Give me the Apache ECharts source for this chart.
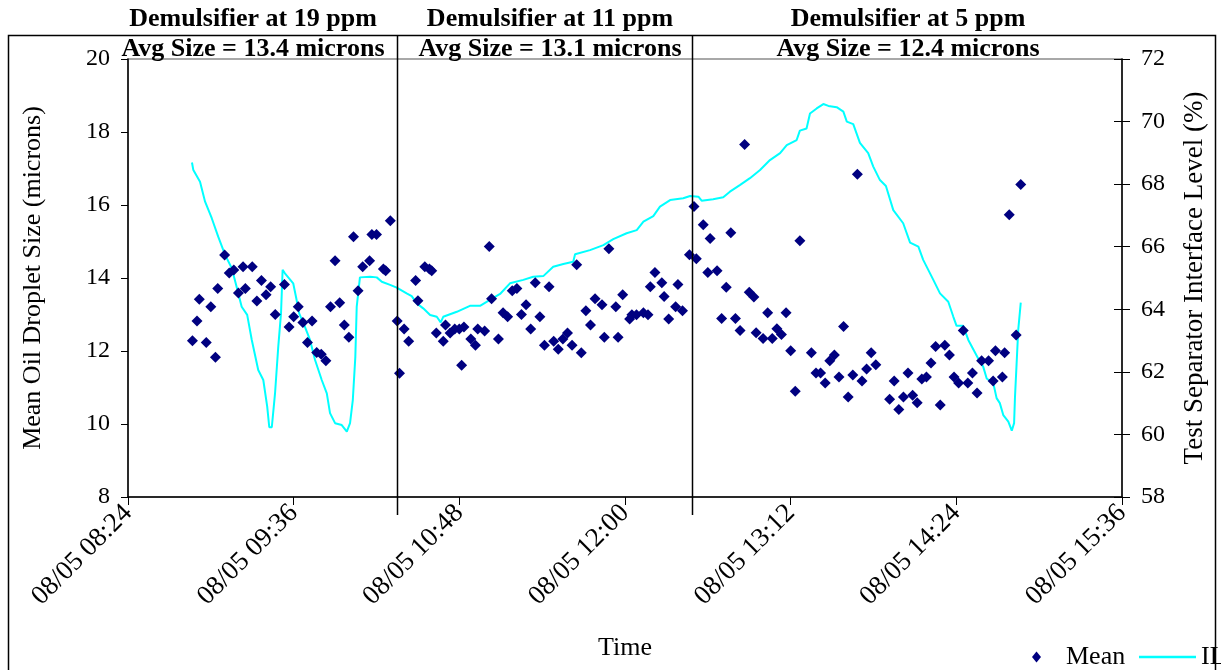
<!DOCTYPE html>
<html><head><meta charset="utf-8">
<script src="https://cdn.jsdelivr.net/npm/echarts@6/dist/echarts.min.js"></script>
<style>html,body{margin:0;padding:0;background:#fff}#c{width:1221px;height:670px}</style>
</head><body><div id="c"></div>
<script>
// ---- data ----
const datePrefix = '08/05';
const xAxisStart = '08:24';
const xAxisEnd = '15:36';
const xTickStepMin = 72;

const sectionTitles = ['Demulsifier at 19 ppm', 'Demulsifier at 11 ppm', 'Demulsifier at 5 ppm'];
const sectionAvg = ['Avg Size = 13.4 microns', 'Avg Size = 13.1 microns', 'Avg Size = 12.4 microns'];
const sectionBreaks = ['10:21', '12:29'];

const meanTimes = ['08:52','08:54','08:55','08:58','09:00','09:02','09:03','09:06','09:08','09:10',
'09:12','09:14','09:15','09:18','09:20','09:22','09:24','09:26','09:28','09:32',
'09:34','09:36','09:38','09:40','09:42','09:44','09:46','09:48','09:50','09:52',
'09:54','09:56','09:58','10:00','10:02','10:04','10:06','10:09','10:10','10:12',
'10:15','10:16','10:18','10:21','10:22','10:24','10:26','10:29','10:30','10:33',
'10:35','10:36','10:38','10:41','10:42','10:44','10:46','10:48','10:49','10:50',
'10:53','10:55','10:56','10:59','11:01','11:02','11:05','11:07','11:09','11:11',
'11:13','11:15','11:17','11:19','11:21','11:23','11:25','11:27','11:29','11:31',
'11:33','11:35','11:37','11:39','11:41','11:43','11:45','11:47','11:50','11:51',
'11:53','11:56','11:57','11:59','12:02','12:03','12:05','12:08','12:10','12:11',
'12:13','12:16','12:17','12:19','12:22','12:23','12:25','12:28','12:30','12:31',
'12:34','12:36','12:37','12:40','12:42','12:44','12:46','12:48','12:50','12:52',
'12:54','12:56','12:57','13:00','13:02','13:04','13:06','13:08','13:10','13:12',
'13:14','13:16','13:21','13:23','13:25','13:27','13:29','13:31','13:33','13:35',
'13:37','13:39','13:41','13:43','13:45','13:47','13:49','13:55','13:57','13:59',
'14:01','14:03','14:05','14:07','14:09','14:11','14:13','14:15','14:17','14:19',
'14:21','14:23','14:25','14:27','14:29','14:31','14:33','14:35','14:38','14:40',
'14:41','14:44','14:45','14:47','14:50','14:52'];
const meanValues = [12.28,12.82,13.42,12.23,13.21,11.83,13.71,14.63,14.14,14.22,
13.59,14.31,13.71,14.31,13.37,13.93,13.54,13.76,13.00,13.82,
12.66,12.94,13.21,12.78,12.23,12.82,11.96,11.91,11.73,13.21,
14.47,13.32,12.71,12.38,15.13,13.65,14.31,14.47,15.19,15.19,
14.25,14.20,15.57,12.82,11.39,12.60,12.27,13.93,13.38,14.31,
14.25,14.20,12.49,12.27,12.71,12.49,12.60,12.60,11.61,12.66,
12.33,12.16,12.60,12.55,14.86,13.43,12.33,13.05,12.94,13.65,
13.71,13.00,13.27,12.60,13.87,12.94,12.16,13.76,12.27,12.05,
12.33,12.49,12.16,14.36,11.95,13.10,12.71,13.43,13.27,12.38,
14.80,13.21,12.38,13.54,12.88,12.99,12.99,13.05,12.99,13.76,
14.15,13.87,13.49,12.88,13.21,13.82,13.10,14.64,15.96,14.53,
15.46,14.15,15.08,14.20,12.89,13.75,15.24,12.89,12.56,17.66,
13.61,13.48,12.50,12.34,13.05,12.34,12.61,12.45,13.05,12.01,
10.90,15.02,11.95,11.40,11.40,11.12,11.73,11.89,11.29,12.67,
10.74,11.34,16.84,11.18,11.51,11.95,11.62,10.68,11.18,10.40,
10.74,11.40,10.79,10.58,11.23,11.29,11.67,12.12,10.52,12.16,
11.89,11.29,11.12,12.56,11.12,11.40,10.85,11.73,11.73,11.18,
12.01,11.29,11.95,15.73,12.44,16.56];

const ilTimes = ['08:51:48','08:52:24','08:55:18','08:57:30','09:00:24','09:03:12','09:06:12','09:09:06','09:11:12','09:13:24',
'09:15:48','09:17:48','09:20:36','09:22:48','09:24:30','09:25:24','09:26:30','09:27:54','09:29:18','09:30:30',
'09:31:12','09:32:12','09:35:48','09:37:00','09:38:24','09:40:54','09:43:06','09:45:18','09:48:12','09:50:24',
'09:51:48','09:54:00','09:56:54','09:59:06','10:00:30','10:01:42','10:02:48','10:03:24','10:04:48','10:09:12',
'10:12:06','10:14:18','10:17:54','10:20:48','10:25:06','10:27:18','10:29:30','10:32:18','10:35:18','10:38:12',
'10:39:54','10:41:00','10:46:54','10:52:36','10:57:00','11:01:18','11:05:42','11:10:00','11:15:48','11:20:06',
'11:24:30','11:28:48','11:33:12','11:37:30','11:38:18','11:44:48','11:50:36','11:54:54','12:00:42','12:05:06',
'12:08:00','12:12:18','12:15:12','12:19:36','12:25:18','12:28:18','12:31:54','12:33:18','12:38:18','12:42:42',
'12:45:36','12:49:54','12:54:18','12:58:42','13:03:00','13:07:24','13:10:18','13:14:36','13:16:00','13:18:54',
'13:20:24','13:23:18','13:26:12','13:28:24','13:32:00','13:34:54','13:36:24','13:39:12','13:42:06','13:45:42',
'13:47:54','13:50:48','13:53:24','13:56:36','14:00:54','14:03:54','14:07:30','14:09:36','14:14:00','14:16:54',
'14:20:30','14:22:42','14:24:06','14:27:00','14:29:12','14:33:30','14:35:42','14:37:12','14:40:06','14:41:30',
'14:42:54','14:44:24','14:46:36','14:48:06','14:49:06','14:49:30','14:50:12','14:50:54','14:52:00'];
const ilValues = [68.69,68.45,68.08,67.44,66.91,66.32,65.74,65.31,64.72,64.08,
63.82,63.02,62.06,61.74,60.89,60.23,60.23,61.31,62.80,63.87,
65.26,65.15,64.83,64.40,63.87,63.44,63.02,62.38,61.74,61.31,
60.68,60.36,60.30,60.09,60.36,61.10,62.48,64.08,65.02,65.04,
65.02,64.88,64.78,64.69,64.51,64.42,64.19,64.03,63.82,63.76,
63.58,63.76,63.92,64.11,64.11,64.30,64.49,64.83,64.94,65.04,
65.06,65.36,65.45,65.52,65.76,65.89,66.05,66.24,66.43,66.53,
66.80,66.98,67.28,67.49,67.55,67.62,67.60,67.47,67.52,67.58,
67.76,67.97,68.19,68.45,68.77,68.99,69.25,69.41,69.71,69.78,
70.26,70.42,70.56,70.50,70.46,70.32,70.00,69.92,69.32,68.99,
68.56,68.13,67.94,67.17,66.75,66.13,66.00,65.58,64.94,64.51,
64.24,63.76,63.47,63.47,63.02,62.43,62.16,61.79,61.63,61.16,
61.00,60.62,60.41,60.12,60.36,61.21,62.27,63.34,64.21];

// ---- helpers ----
function toMin(s){ const p = s.split(':').map(Number); return p[0]*60 + p[1] + (p[2]||0)/60; }
function fmt(m){ const h = Math.floor(m/60), mm = Math.round(m - h*60);
  return datePrefix + ' ' + String(h).padStart(2,'0') + ':' + String(mm).padStart(2,'0'); }

const FONT = '"Liberation Serif", "Times New Roman", serif';
const chart = echarts.init(document.getElementById('c'), null, {renderer:'canvas'});

const titleX = [253, 550, 908];
const graphics = [
  {type:'rect', id:'frame', silent:true, z:0, shape:{x:8.5, y:35.5, width:1207, height:700},
   style:{fill:'none', stroke:'#000', lineWidth:1.5}}
];
sectionTitles.forEach((t,i)=>{
  graphics.push({type:'text', id:'t'+i, z:100, style:{text:t, x:titleX[i], y:19, textAlign:'center', textVerticalAlign:'middle', align:'center', verticalAlign:'middle', font:'bold 26px ' + FONT, fill:'#000'}});
  graphics.push({type:'text', id:'a'+i, z:100, style:{text:sectionAvg[i], x:titleX[i], y:49, textAlign:'center', textVerticalAlign:'middle', align:'center', verticalAlign:'middle', font:'bold 26px ' + FONT, fill:'#000'}});
});

const nameText = {color:'#000', fontFamily:FONT, fontSize:26};
const tickText = {color:'#000', fontFamily:FONT, fontSize:24};

chart.setOption({
  animation:false,
  textStyle:{fontFamily:FONT},
  grid:{left:128, right:99, top:59, bottom:173, show:true, borderColor:'#8c8c8c', borderWidth:1.5},
  xAxis:{type:'value', min:toMin(xAxisStart), max:toMin(xAxisEnd), interval:xTickStepMin,
    axisLine:{lineStyle:{color:'#000', width:1.5}},
    axisTick:{length:8, lineStyle:{color:'#000', width:1}},
    axisLabel:{rotate:45, formatter:fmt, margin:12, color:'#000', fontFamily:FONT, fontSize:27},
    splitLine:{show:false},
    name:'Time', nameLocation:'middle', nameGap:138, nameTextStyle:nameText},
  yAxis:[
    {type:'value', min:8, max:20, interval:2, position:'left',
     axisLine:{show:true, lineStyle:{color:'#000', width:1.5}},
     axisTick:{show:true, length:7, lineStyle:{color:'#000'}},
     axisLabel:Object.assign({margin:18}, tickText),
     splitLine:{show:false},
     name:'Mean Oil Droplet Size (microns)', nameLocation:'middle', nameGap:82, nameRotate:90, nameTextStyle:nameText},
    {type:'value', min:58, max:72, interval:2, position:'right',
     axisLine:{show:true, lineStyle:{color:'#000', width:1.5}},
     axisTick:{show:true, length:8, lineStyle:{color:'#000'}},
     axisLabel:Object.assign({margin:19}, tickText),
     splitLine:{show:false},
     name:'Test Separator Interface Level (%)', nameLocation:'middle', nameGap:59, nameRotate:90,
     nameTextStyle:Object.assign({}, nameText, {fontSize:27})},
    {type:'value', min:58, max:72, interval:2, position:'right', offset:0,
     axisLine:{show:false}, axisTick:{show:true, inside:true, length:8, lineStyle:{color:'#000'}},
     axisLabel:{show:false}, splitLine:{show:false}}
  ],
  legend:[
    {data:[{name:'Mean', icon:'diamond'}], selectedMode:false, left:1027, top:639, itemWidth:9, itemHeight:11, itemGap:0,
     textStyle:{color:'#000', fontFamily:FONT, fontSize:26, padding:[0,0,0,20]}},
    {data:[{name:'IL', icon:'rect'}], selectedMode:false, left:1134, top:639, itemWidth:57, itemHeight:2.5,
     textStyle:{color:'#000', fontFamily:FONT, fontSize:26}}
  ],
  series:[
    {type:'scatter', name:'Mean', symbol:'diamond', symbolSize:[11,11], itemStyle:{color:'#000080', opacity:1},
     data: meanTimes.map((t,i)=>[toMin(t), meanValues[i]]), z:3},
    {type:'line', name:'IL', yAxisIndex:1, symbol:'none', showSymbol:false,
     lineStyle:{color:'#00ffff', width:2}, itemStyle:{color:'#00ffff'},
     data: ilTimes.map((t,i)=>[toMin(t), ilValues[i]]), z:2}
  ],
  graphic: graphics
});

// section separator lines, positioned through the x axis scale
const yTop = 35.5;
const yBottom = chart.convertToPixel({yAxisIndex:0}, 8) + 18;
const sepEls = sectionBreaks.map((t,i)=>{
  const x = Math.round(chart.convertToPixel({xAxisIndex:0}, toMin(t))) + 0.5;
  return {type:'line', id:'sep'+i, silent:true, z:50, shape:{x1:x, y1:yTop, x2:x, y2:yBottom}, style:{stroke:'#000', lineWidth:1.5}};
});
chart.setOption({graphic: graphics.concat(sepEls)});
</script>
</body></html>
